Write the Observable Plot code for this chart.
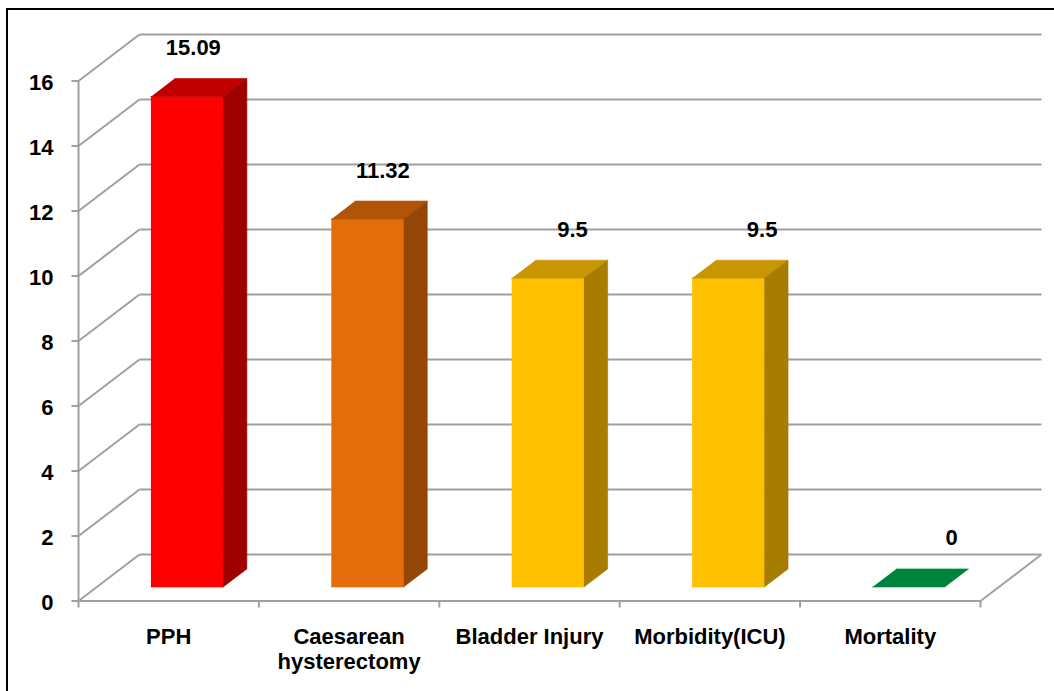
<!DOCTYPE html>
<html>
<head>
<meta charset="utf-8">
<script src="https://cdn.jsdelivr.net/npm/d3@7"></script>
<script src="https://cdn.jsdelivr.net/npm/@observablehq/plot@0.6"></script>
<style>
  html, body { margin: 0; padding: 0; background: #fff; overflow: hidden; }
  #wrap { position: relative; width: 1054px; height: 691px; }
  #frame { position: absolute; left: 6px; top: 8px; width: 1200px; height: 900px;
           border: 2.5px solid #000; box-sizing: border-box; pointer-events: none; }
  #chart { position: absolute; left: 0; top: 0; }
</style>
</head>
<body>
<div id="wrap"><div id="chart"></div><div id="frame"></div></div>
<script>
// ---- data ----
const categories = ["PPH", "Caesarean\nhysterectomy", "Bladder Injury", "Morbidity(ICU)", "Mortality"];
const values = [15.09, 11.32, 9.5, 9.5, 0];
const valueLabels = ["15.09", "11.32", "9.5", "9.5", "0"];
const yTicks = [0, 2, 4, 6, 8, 10, 12, 14, 16];
const frontColors = ["#ff0000", "#e46c0a", "#ffc000", "#ffc000", "#00843d"];
const topColors   = ["#c00000", "#b25408", "#c89600", "#c89600", "#00843d"];
const sideColors  = ["#9e0000", "#944606", "#a67d00", "#a67d00", "#006830"];

// ---- oblique 3D projection (in data units) ----
const DX = 0.338, DY = 1.43;     // full depth offset
const F0 = 0.30, F1 = 0.69;      // bar depth extent
const HALF = 0.2;                // half bar width (band = 1)
const N = categories.length;
const P = (c, v, f) => ({x: c + DX * f, y: v + DY * f});

// grid / wall lines
const links = [];
for (const t of yTicks) {
  links.push({a: P(0, t, 0), b: P(0, t, 1)});
  links.push({a: P(0, t, 1), b: P(N, t, 1)});
}
links.push({a: P(0, 0, 0), b: P(0, 16, 0)});
links.push({a: P(0, 0, 0), b: P(N, 0, 0)});
links.push({a: P(N, 0, 0), b: P(N, 0, 1)});
// tick marks
const tickLinks = [];
for (const t of yTicks) tickLinks.push({a: {x: -0.039, y: t}, b: {x: 0, y: t}});
for (let i = 0; i <= N; i++) tickLinks.push({a: {x: i, y: 0}, b: {x: i, y: -0.2}});

// bar faces
const faceRows = [];
values.forEach((v, i) => {
  const l = i + 0.5 - HALF, r = i + 0.5 + HALF;
  const faces = [
    {id: `f${i}`, color: frontColors[i], pts: [P(l, 0, F0), P(r, 0, F0), P(r, v, F0), P(l, v, F0)]},
    {id: `t${i}`, color: topColors[i], pts: [P(l, v, F0), P(r, v, F0), P(r, v, F1), P(l, v, F1)]},
    {id: `s${i}`, color: sideColors[i], pts: [P(r, 0, F0), P(r, 0, F1), P(r, v, F1), P(r, v, F0)]}
  ];
  for (const f of faces) {
    if (v === 0 && f.id[0] !== "t") continue;
    for (const p of f.pts) faceRows.push({id: f.id, color: f.color, x: p.x, y: p.y});
  }
});

const gridColor = "#a0a0a0";
const font = "Liberation Sans, Arial, Helvetica, sans-serif";

const plot = Plot.plot({
  width: 1054,
  height: 691,
  marginLeft: 78,
  marginRight: 74,
  marginTop: 80.5,
  marginBottom: 90.5,
  x: {type: "linear", domain: [0, N], axis: null},
  y: {type: "linear", domain: [0, 16], axis: null},
  color: {type: "identity"},
  style: {fontFamily: font, background: "transparent", overflow: "visible"},
  marks: [
    Plot.link(links, {x1: d => d.a.x, y1: d => d.a.y, x2: d => d.b.x, y2: d => d.b.y,
      stroke: gridColor, strokeWidth: 2}),
    Plot.link(tickLinks, {x1: d => d.a.x, y1: d => d.a.y, x2: d => d.b.x, y2: d => d.b.y,
      stroke: gridColor, strokeWidth: 2}),
    Plot.line(faceRows, {x: "x", y: "y", z: "id", fill: "color", stroke: "color", strokeWidth: 0.6, curve: "linear"}),
    Plot.text(yTicks, {x: 0, y: d => d, text: d => String(d), textAnchor: "end", dx: -25, dy: 1.5,
      fontSize: 22, fontWeight: "bold", fill: "#000", fontFamily: font}),
    Plot.text(categories, {x: (d, i) => i + 0.5, y: 0, text: d => d, lineAnchor: "top", dy: 25,
      lineHeight: 1.14, fontSize: 22, fontWeight: "bold", fill: "#000", fontFamily: font}),
    Plot.text(values, {x: (d, i) => (i + 0.5) * 1.051 + 0.111, y: d => d + 1.71, text: (d, i) => valueLabels[i],
      lineAnchor: "bottom", fontSize: 22, fontWeight: "bold", fill: "#000", fontFamily: font})
  ]
});
document.getElementById("chart").appendChild(plot);
</script>
</body>
</html>
